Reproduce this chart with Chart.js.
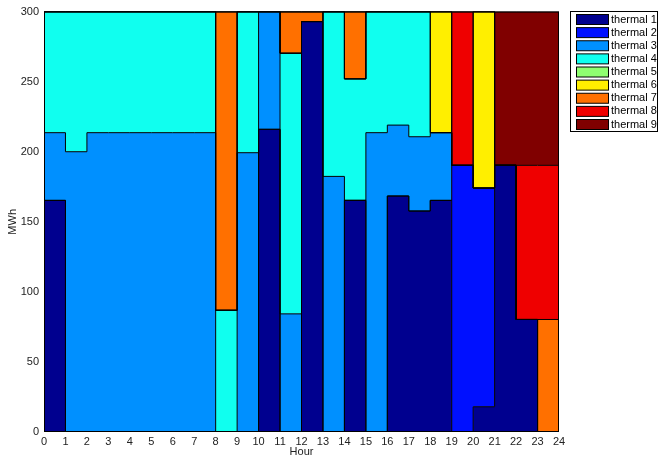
<!DOCTYPE html>
<html><head><meta charset="utf-8">
<script src="https://cdn.jsdelivr.net/npm/chart.js@4/dist/chart.umd.min.js"></script>
<style>html,body{margin:0;padding:0;background:#fff}#wrap{width:659px;height:457px;position:relative}</style>
</head><body><div id="wrap"><canvas id="c" width="659" height="457"></canvas></div>
<script>
// Hour tick labels (x axis) and y ticks
const hourTicks = [0,1,2,3,4,5,6,7,8,9,10,11,12,13,14,15,16,17,18,19,20,21,22,23,24];
const mwhTicks = [0,50,100,150,200,250,300];
const seriesNames = ['thermal 1','thermal 2','thermal 3','thermal 4','thermal 5','thermal 6','thermal 7','thermal 8','thermal 9'];
const seriesColors = ['#00008F','#0010FF','#0090FF','#10FFEF','#8FFF70','#FFEF00','#FF7000','#EF0000','#800000'];

// Generation per hour (MWh), hours 0..23
const thermal1 = [165.3,0,0,0,0,0,0,0,0,0,216,0,292.9,0,165.3,0,168.4,157.7,165.3,0,18,190.3,80.3,0];
const thermal2 = [0,0,0,0,0,0,0,0,0,0,0,0,0,0,0,0,0,0,0,190.3,156.1,0,0,0];
const thermal3 = [48.3,200,213.6,213.6,213.6,213.6,213.6,213.6,0,199.3,84,84.3,0,182.4,0,213.6,50.6,53,48.3,0,0,0,0,0];
const thermal4 = [86.4,100,86.4,86.4,86.4,86.4,86.4,86.4,86.9,100.7,0,186,0,117.6,86.7,86.4,81,89.3,0,0,0,0,0,0];
const thermal5 = [0,0,0,0,0,0,0,0,0,0,0,0,0,0,0,0,0,0,0,0,0,0,0,0];
const thermal6 = [0,0,0,0,0,0,0,0,0,0,0,0,0,0,0,0,0,0,86.4,0,125.9,0,0,0];
const thermal7 = [0,0,0,0,0,0,0,0,213.1,0,0,29.7,7.1,0,48,0,0,0,0,0,0,0,0,80.3];
const thermal8 = [0,0,0,0,0,0,0,0,0,0,0,0,0,0,0,0,0,0,0,109.7,0,0,110,110];
const thermal9 = [0,0,0,0,0,0,0,0,0,0,0,0,0,0,0,0,0,0,0,0,0,109.7,109.7,109.7];

const seriesValues = [thermal1,thermal2,thermal3,thermal4,thermal5,thermal6,thermal7,thermal8,thermal9];

// stepped points: value of hour h holds on [h, h+1]
function toSteps(vals){
  const pts = vals.map((v,i)=>({x: hourTicks[i], y: v}));
  pts.push({x: hourTicks[vals.length], y: vals[vals.length-1]});
  return pts;
}

const datasets = seriesNames.map((name,i)=>({
  label: name,
  data: toSteps(seriesValues[i]),
  backgroundColor: seriesColors[i],
  borderColor: '#000',
  borderWidth: 1,
  stepped: 'before',
  pointRadius: 0,
  pointHoverRadius: 0,
  fill: i === 0 ? 'origin' : '-1'
}));

const FONT = '"Liberation Sans", Arial, Helvetica, sans-serif';

const frameAndLegend = {
  id: 'frameAndLegend',
  afterDraw(chart){
    const ctx = chart.ctx, a = chart.chartArea;
    ctx.save();
    ctx.strokeStyle = '#000';
    ctx.lineWidth = 1;
    ctx.strokeRect(a.left + 0.5, a.top + 0.5, a.right - a.left - 1, a.bottom - a.top - 1);
    // legend
    const lx = 570.5, ly = 11.5, lw = 87, lh = 120;
    ctx.fillStyle = '#fff';
    ctx.fillRect(lx, ly, lw, lh);
    ctx.strokeRect(lx, ly, lw, lh);
    ctx.font = '11px ' + FONT;
    ctx.textBaseline = 'middle';
    ctx.textAlign = 'left';
    chart.data.datasets.forEach((ds, i) => {
      const y = 14.5 + i * 13.125;
      ctx.fillStyle = ds.backgroundColor;
      ctx.fillRect(576.5, y, 32, 10);
      ctx.strokeStyle = '#000';
      ctx.strokeRect(576.5, y, 32, 10);
      ctx.fillStyle = '#000';
      ctx.fillText(ds.label, 611, y + 5);
    });
    ctx.restore();
  }
};

new Chart(document.getElementById('c'), {
  type: 'line',
  data: { datasets },
  options: {
    responsive: false,
    animation: false,
    layout: { padding: { left: 0, top: 11, right: 100, bottom: 0 } },
    plugins: {
      legend: { display: false },
      tooltip: { enabled: false },
      filler: { drawTime: 'beforeDatasetsDraw' }
    },
    scales: {
      x: {
        type: 'linear',
        min: 0, max: 24,
        afterFit: s => { s.height = 25; },
        afterBuildTicks: s => { s.ticks = hourTicks.map(v => ({ value: v })); },
        grid: { display: false, drawTicks: false },
        border: { display: false },
        ticks: { autoSkip: false, maxRotation: 0, padding: 3, color: '#222', font: { size: 11, family: FONT } },
        title: { display: true, text: 'Hour', color: '#222', font: { size: 11, family: FONT }, padding: { top: 0, bottom: -2 } }
      },
      y: {
        stacked: true,
        min: 0, max: 300,
        afterFit: s => { s.width = 44; },
        afterBuildTicks: s => { s.ticks = mwhTicks.map(v => ({ value: v })); },
        grid: { display: false, drawTicks: false },
        border: { display: false },
        ticks: { padding: 5, color: '#222', font: { size: 11, family: FONT } },
        title: { display: true, text: 'MWh', color: '#222', font: { size: 11, family: FONT }, padding: { top: 6, bottom: 0 } }
      }
    }
  },
  plugins: [frameAndLegend]
});
</script>
</body></html>
